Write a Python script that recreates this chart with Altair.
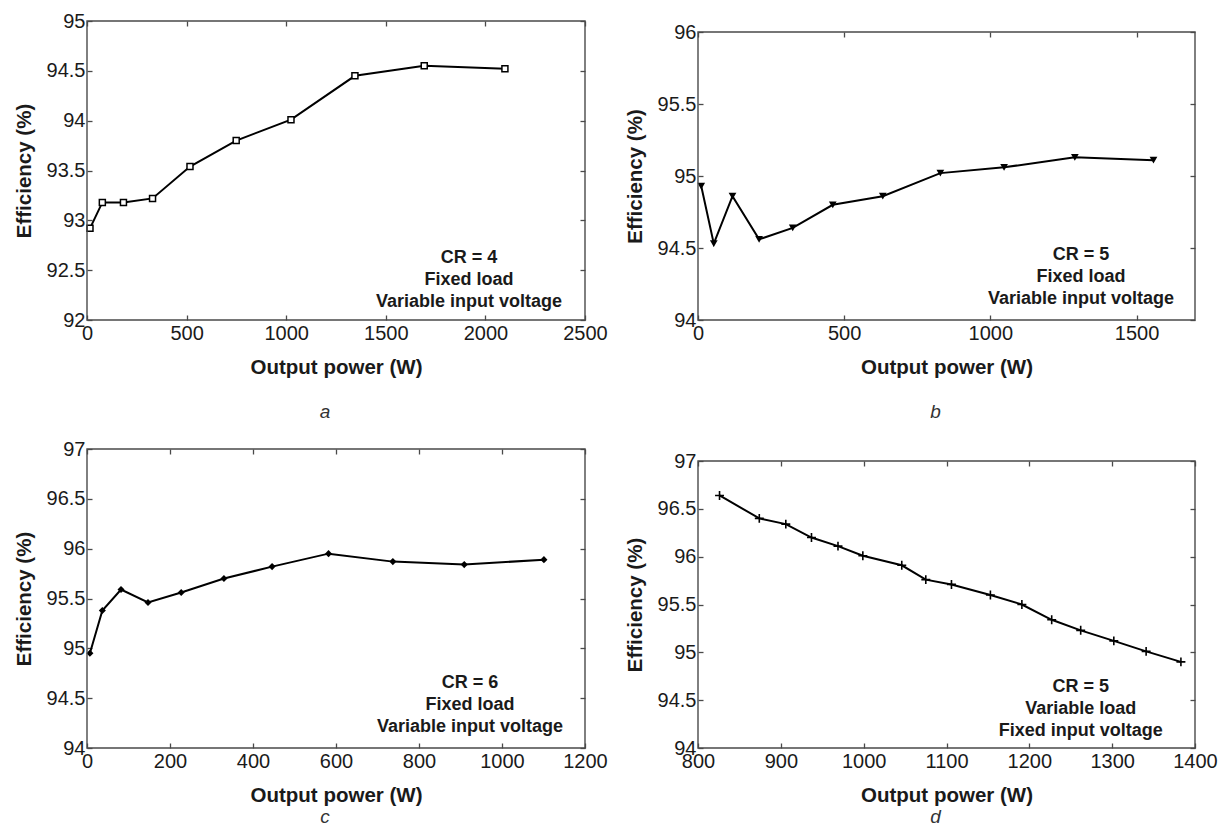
import altair as alt
import pandas as pd

# ---------------- data ----------------
a_power = [15, 77, 183, 329, 517, 749, 1024, 1345, 1693, 2098]
a_eff = [92.92, 93.18, 93.18, 93.22, 93.54, 93.80, 94.01, 94.45, 94.55, 94.52]

b_power = [11, 54, 118, 209, 324, 461, 632, 829, 1047, 1289, 1558]
b_eff = [94.93, 94.53, 94.86, 94.56, 94.64, 94.80, 94.86, 95.02, 95.06, 95.13, 95.11]

c_power = [7, 37, 82, 147, 227, 330, 446, 582, 737, 909, 1101]
c_eff = [94.95, 95.38, 95.59, 95.46, 95.56, 95.70, 95.82, 95.95, 95.87, 95.84, 95.89]

d_power = [826, 874, 906, 937, 969, 999, 1046, 1075, 1106, 1153, 1191, 1227, 1262, 1302, 1341, 1383]
d_eff = [96.64, 96.40, 96.34, 96.20, 96.11, 96.01, 95.91, 95.76, 95.71, 95.60, 95.50, 95.34,
         95.23, 95.12, 95.01, 94.90]

a_xdom, a_ydom = [0, 2500], [92, 95]
b_xdom, b_ydom = [0, 1700], [94, 96]
c_xdom, c_ydom = [0, 1200], [94, 97]
d_xdom, d_ydom = [800, 1400], [94, 97]

a_xticks = [0, 500, 1000, 1500, 2000, 2500]
b_xticks = [0, 500, 1000, 1500]
c_xticks = [0, 200, 400, 600, 800, 1000, 1200]
d_xticks = [800, 900, 1000, 1100, 1200, 1300, 1400]
a_yticks = [92, 92.5, 93, 93.5, 94, 94.5, 95]
b_yticks = [94, 94.5, 95, 95.5, 96]
c_yticks = [94, 94.5, 95, 95.5, 96, 96.5, 97]
d_yticks = [94, 94.5, 95, 95.5, 96, 96.5, 97]

a_note = "CR = 4\nFixed load\nVariable input voltage"
b_note = "CR = 5\nFixed load\nVariable input voltage"
c_note = "CR = 6\nFixed load\nVariable input voltage"
d_note = "CR = 5\nVariable load\nFixed input voltage"
note_x = [1918, 1310, 923, 1262]
note_y = [92.62, 94.45, 94.65, 94.64]

captions = ["a", "b", "c", "d"]
x_title = "Output power (W)"
y_title = "Efficiency (%)"

FONT = "Liberation Sans"
TEXT = "#1a1a1a"
FRAME = "#4a4a4a"
TICK = 5


def panel(px, ey, xdom, ydom, xticks, yticks, note, nx, ny, caption, cap_offset,
          w, h, top_gap, marker):
    df = pd.DataFrame({"P": px, "E": ey})
    note_df = pd.DataFrame({"P": [nx], "E": [ny], "t": [note]})
    frame_df = pd.DataFrame({"x0": [xdom[0]], "x1": [xdom[1]],
                             "y0": [ydom[0]], "y1": [ydom[1]]})

    xsc = alt.Scale(domain=xdom, nice=False, zero=False)
    ysc = alt.Scale(domain=ydom, nice=False, zero=False, range=[h, top_gap])

    x_axis = alt.Axis(values=xticks, title=x_title, orient="bottom",
                      offset=-TICK, tickSize=TICK, domain=False, grid=False,
                      labelFlush=False, labelOverlap=False, labelPadding=3,
                      titlePadding=14, format="~r")
    y_axis = alt.Axis(values=yticks, title=y_title, orient="left",
                      offset=-TICK, tickSize=TICK, domain=False, grid=False,
                      labelFlush=False, labelOverlap=False, labelPadding=2,
                      titlePadding=12, format="~r")

    x_enc = alt.X("P:Q", scale=xsc, axis=x_axis)
    y_enc = alt.Y("E:Q", scale=ysc, axis=y_axis)

    line = alt.Chart(df).mark_line(color="black", strokeWidth=2).encode(x=x_enc, y=y_enc)
    pts = alt.Chart(df).mark_point(**marker).encode(x=x_enc, y=y_enc)
    txt = alt.Chart(note_df).mark_text(
        font=FONT, fontSize=18, fontWeight="bold", lineHeight=22,
        align="center", baseline="middle", color=TEXT, lineBreak="\n"
    ).encode(x=x_enc, y=y_enc, text="t:N")

    main = alt.layer(line, pts, txt)

    frame = alt.Chart(frame_df).mark_rect(
        filled=False, stroke=FRAME, strokeWidth=1.4
    ).encode(
        x=alt.X("x0:Q", scale=alt.Scale(domain=xdom, nice=False, zero=False),
                axis=alt.Axis(values=xticks, orient="top", labels=False, title=None,
                              offset=-(TICK + top_gap), tickSize=TICK, domain=False,
                              grid=False, minExtent=0, maxExtent=0)),
        x2="x1:Q",
        y=alt.Y("y0:Q", scale=alt.Scale(domain=ydom, nice=False, zero=False,
                                         range=[h, top_gap]),
                axis=alt.Axis(values=yticks, orient="right", labels=False, title=None,
                              offset=-TICK, tickSize=TICK, domain=False, grid=False,
                              minExtent=0, maxExtent=0)),
        y2="y1:Q",
    )

    return alt.layer(main, frame).resolve_scale(
        x="independent", y="independent"
    ).properties(
        width=w, height=h,
        title=alt.TitleParams(caption, orient="bottom", anchor="middle", fontSize=19,
                              fontStyle="italic", fontWeight="normal", font=FONT,
                              color="#333333", offset=cap_offset, dx=-11),
    )


pa = panel(a_power, a_eff, a_xdom, a_ydom, a_xticks, a_yticks, a_note, note_x[0], note_y[0],
           captions[0], 25, 498, 299, 0,
           dict(shape="square", filled=False, fill="white", color="black", size=36,
                strokeWidth=1.5, opacity=1))
pb = panel(b_power, b_eff, b_xdom, b_ydom, b_xticks, b_yticks, b_note, note_x[1], note_y[1],
           captions[1], 25, 497, 299, 11,
           dict(shape="triangle-down", filled=True, color="black", size=60, opacity=1))
pc = panel(c_power, c_eff, c_xdom, c_ydom, c_xticks, c_yticks, c_note, note_x[2], note_y[2],
           captions[2], 2, 498, 299, 0,
           dict(shape="diamond", filled=True, color="black", size=50, opacity=1))
pd_ = panel(d_power, d_eff, d_xdom, d_ydom, d_xticks, d_yticks, d_note, note_x[3], note_y[3],
            captions[3], 2, 497, 299, 12,
            dict(shape="M-1,0L1,0M0,-1L0,1", filled=False, color="black", size=80,
                 strokeWidth=1.6, opacity=1))

chart = alt.concat(
    pa, pb, pc, pd_, columns=2, spacing={"row": 129, "column": 113}, bounds="flush"
).properties(
    padding={"left": 6, "top": 3, "right": 0, "bottom": 0}, background="white"
).configure_view(stroke=None).configure_axis(
    labelFont=FONT, labelFontSize=20, labelColor=TEXT,
    titleFont=FONT, titleFontSize=20.5, titleFontWeight="bold", titleColor=TEXT,
    tickColor=FRAME, tickWidth=1.3,
)

chart.save("out.html", embed_options={"renderer": "svg", "actions": False})
